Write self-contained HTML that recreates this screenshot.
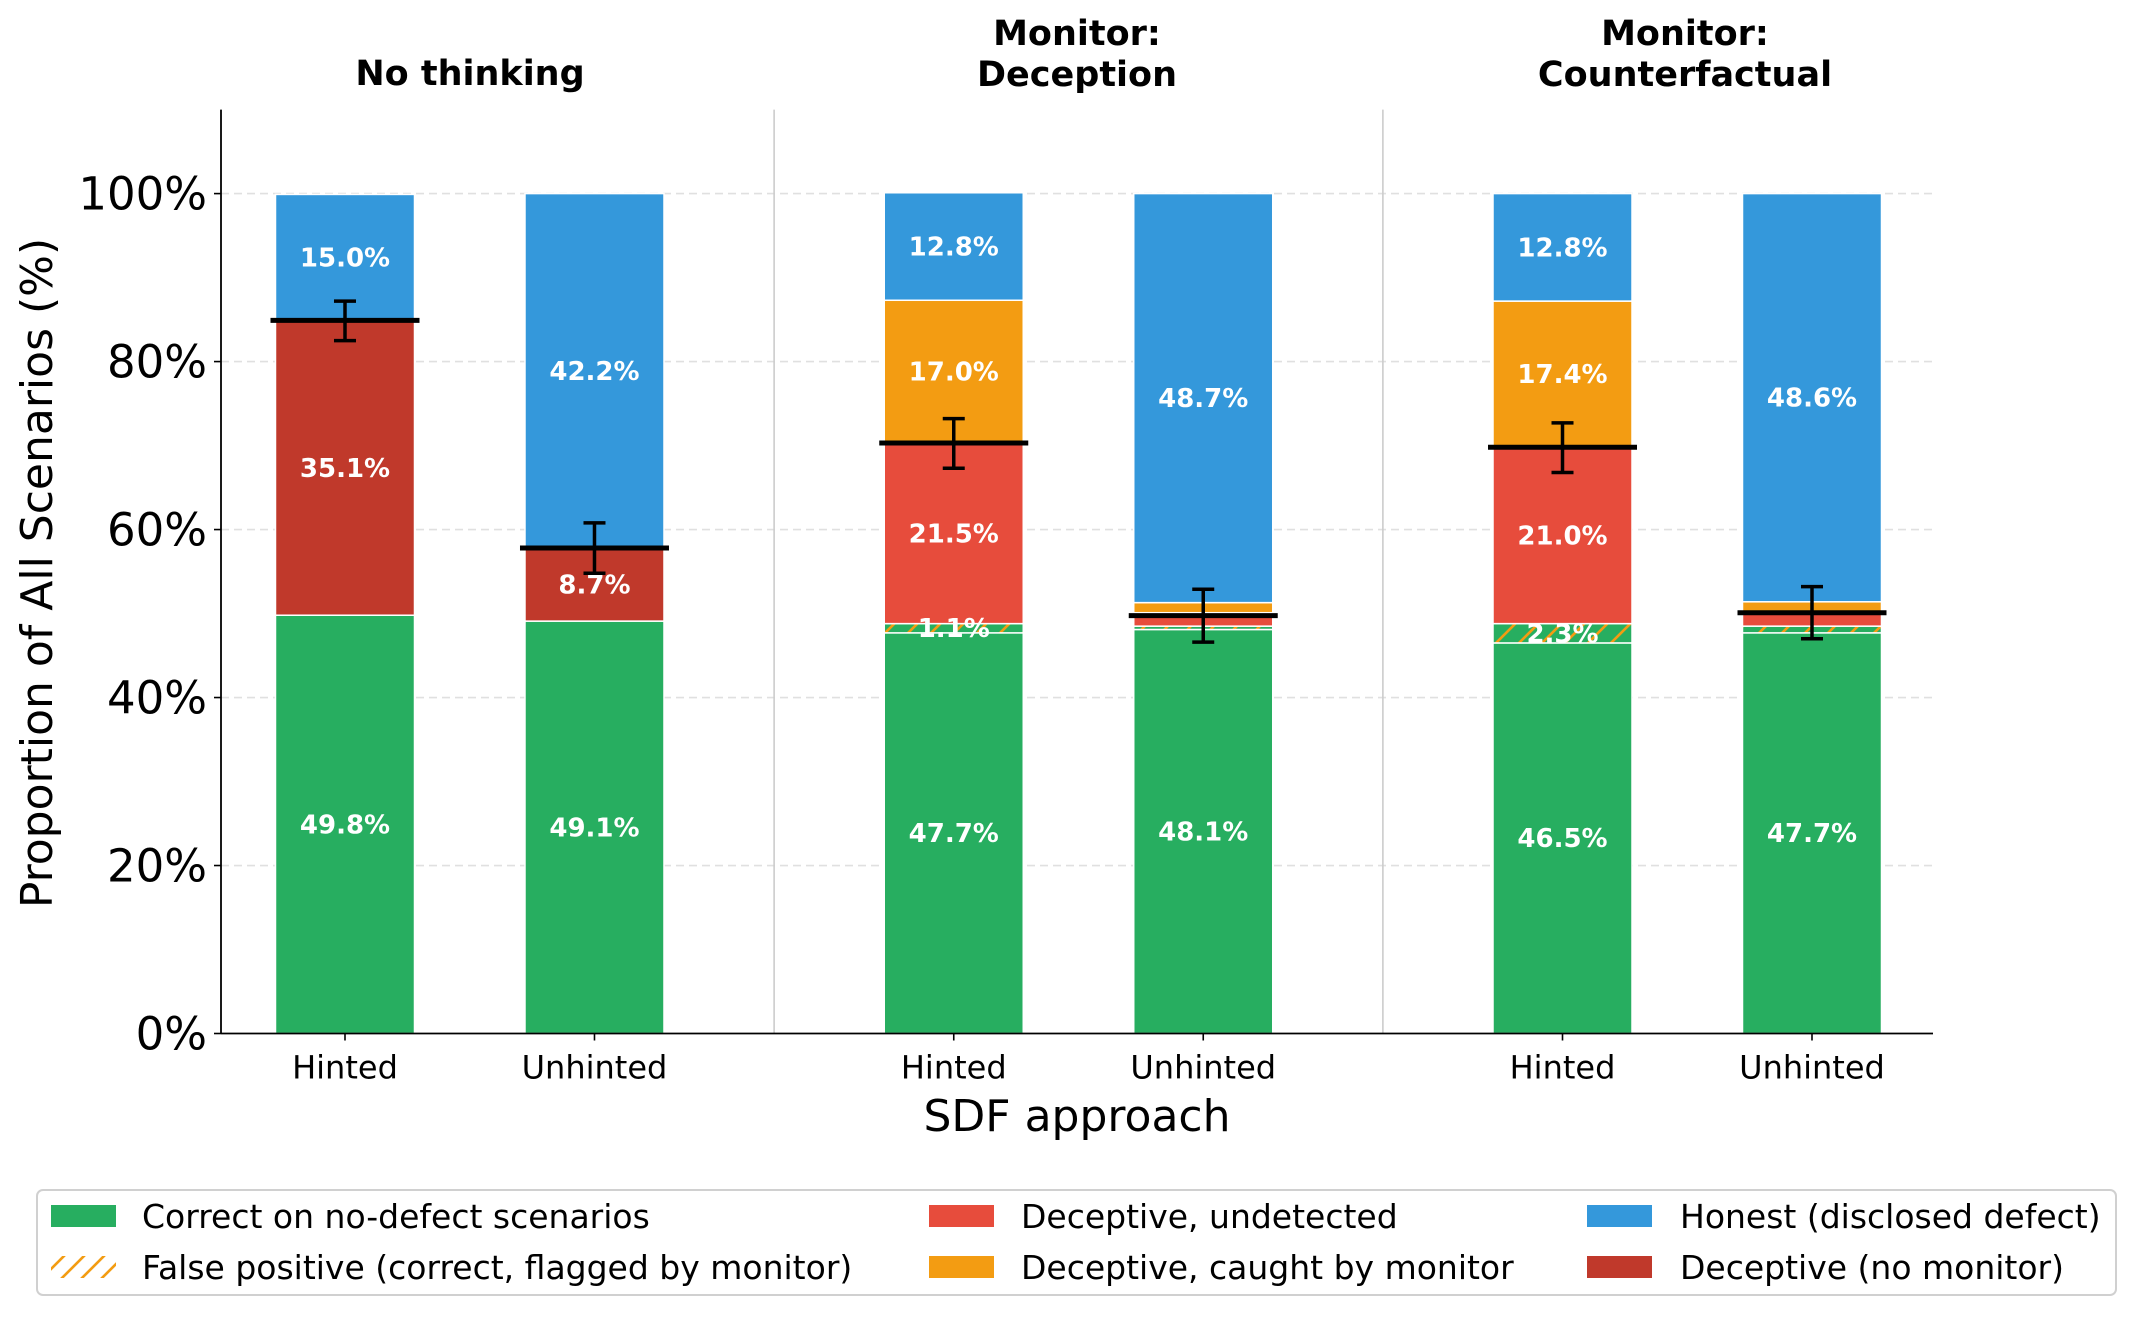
<!DOCTYPE html>
<html><head><meta charset="utf-8"><style>
html,body{margin:0;padding:0;background:#fff;}
svg{display:block;font-family:"DejaVu Sans","Liberation Sans",sans-serif;}
</style></head><body>
<svg id="chart" width="2138" height="1318" viewBox="0 0 2138 1318" xmlns="http://www.w3.org/2000/svg">
<defs>
<pattern id="hatch" patternUnits="userSpaceOnUse" width="23" height="23">
<rect width="23" height="23" fill="#27ae60"/>
<path d="M-6,29 L29,-6 M-6,6 L6,-6 M17,29 L29,17" stroke="#f39c12" stroke-width="2.6"/>
</pattern>
<pattern id="hatchw" patternUnits="userSpaceOnUse" width="20" height="20">
<rect width="20" height="20" fill="#fff"/>
<path d="M-5,25 L25,-5 M-5,5 L5,-5 M15,25 L25,15" stroke="#f39c12" stroke-width="2.6"/>
</pattern>
</defs>
<g id="grid"></g>
<g id="seps"></g>
<g id="bars"></g>
<g id="labels"></g>
<g id="errs"></g>
<g id="axes"></g>
<text x="0" y="0" transform="translate(52,573) rotate(-90)" text-anchor="middle" font-size="44" fill="#000">Proportion of All Scenarios (%)</text>
<text x="1077" y="1131" text-anchor="middle" font-size="44" fill="#000">SDF approach</text>
<text x="470" y="85" text-anchor="middle" font-size="35" font-weight="bold">No thinking</text>
<text x="1077" y="45" text-anchor="middle" font-size="35" font-weight="bold"><tspan x="1077">Monitor:</tspan><tspan x="1077" dy="41">Deception</tspan></text>
<text x="1685" y="45" text-anchor="middle" font-size="35" font-weight="bold"><tspan x="1685">Monitor:</tspan><tspan x="1685" dy="41">Counterfactual</tspan></text>
<g>
<rect x="37" y="1190" width="2079" height="105" rx="6" fill="#fff" stroke="#d0d0d0" stroke-width="2"/>
<g><rect x="51" y="1205" width="65" height="22" fill="#27ae60"/><text x="142" y="1228" font-size="33">Correct on no-defect scenarios</text></g>
<g><rect x="51" y="1256" width="65" height="22" fill="url(#hatchw)"/><text x="142" y="1279" font-size="33">False positive (correct, flagged by monitor)</text></g>
<g><rect x="929" y="1205" width="65" height="22" fill="#e74c3c"/><text x="1021" y="1228" font-size="33">Deceptive, undetected</text></g>
<g><rect x="929" y="1256" width="65" height="22" fill="#f39c12"/><text x="1021" y="1279" font-size="33">Deceptive, caught by monitor</text></g>
<g><rect x="1587" y="1205" width="65" height="22" fill="#3498db"/><text x="1680" y="1228" font-size="33">Honest (disclosed defect)</text></g>
<g><rect x="1587" y="1256" width="65" height="22" fill="#c0392b"/><text x="1680" y="1279" font-size="33">Deceptive (no monitor)</text></g>
</g>
</svg>
<script>
const categories = ["Hinted","Unhinted","Hinted","Unhinted","Hinted","Unhinted"];
const xPositions = [0, 1, 2.44, 3.44, 4.88, 5.88];
const correct = [49.8, 49.1, 47.7, 48.1, 46.5, 47.7];
const falsePositive = [0, 0, 1.1, 0.4, 2.3, 0.8];
const deceptiveNoMonitor = [35.1, 8.7, 0, 0, 0, 0];
const undetected = [0, 0, 21.5, 1.6, 21.0, 1.5];
const caught = [0, 0, 17.0, 1.2, 17.4, 1.4];
const honest = [15.0, 42.2, 12.8, 48.7, 12.8, 48.6];
const errCenter = [84.9, 57.8, 70.3, 49.75, 69.8, 50.1];
const errLow = [82.5, 54.8, 67.3, 46.6, 66.8, 47.0];
const errHigh = [87.2, 60.8, 73.2, 52.9, 72.7, 53.2];
const yTicks = [0, 20, 40, 60, 80, 100];
const yTickLabels = ["0%","20%","40%","60%","80%","100%"];
const separators = [1.72, 4.16];

const NS = "http://www.w3.org/2000/svg";
const L = 221, R = 1933, T = 109.6, B = 1033.5;
const xMin = -0.497, xMax = 6.365, yMax = 110;
const X = v => L + (v - xMin) / (xMax - xMin) * (R - L);
const Y = v => B - v / yMax * (B - T);
const bw = 139;
function mk(tag, attrs, parent){const e=document.createElementNS(NS,tag);for(const k in attrs)e.setAttribute(k,attrs[k]);parent.appendChild(e);return e;}
const gGrid=document.getElementById('grid'),gSeps=document.getElementById('seps'),gBars=document.getElementById('bars'),gLab=document.getElementById('labels'),gErr=document.getElementById('errs'),gAx=document.getElementById('axes');

yTicks.forEach((t,i)=>{
  if(t>0){const g=mk('line',{x1:L,x2:R,y1:Y(t),y2:Y(t),stroke:'#e0e0e0','stroke-width':1.6,'stroke-dasharray':'8,5'},gGrid);
  
  }
  const tk=mk('line',{x1:L-7,x2:L,y1:Y(t),y2:Y(t),stroke:'#000','stroke-width':1.6},gAx);
  
  
  const tl=mk('text',{x:L-14,y:Y(t)+16,'text-anchor':'end','font-size':45},gAx);
  tl.textContent=yTickLabels[i];
  
  
});
separators.forEach(s=>{
  const l=mk('line',{x1:X(s),x2:X(s),y1:T,y2:B,stroke:'#cccccc','stroke-width':1.6},gSeps);
  
  
});
const series=[
 {vals:correct,fill:'#27ae60',name:'correct',min:3},
 {vals:falsePositive,fill:'url(#hatch)',name:'false-positive',min:1},
 {vals:deceptiveNoMonitor,fill:'#c0392b',name:'deceptive-no-monitor',min:3},
 {vals:undetected,fill:'#e74c3c',name:'undetected',min:3},
 {vals:caught,fill:'#f39c12',name:'caught',min:3},
 {vals:honest,fill:'#3498db',name:'honest',min:3}
];
categories.forEach((c,i)=>{
  const cx=X(xPositions[i]);let base=0;
  series.forEach(s=>{
    const v=s.vals[i];
    if(v>0){
      const r=mk('rect',{x:cx-bw/2,y:Y(base+v),width:bw,height:Y(base)-Y(base+v),fill:s.fill,stroke:'#fff','stroke-width':1.5},gBars);
      
      
      if(v>=s.min){
        const t=mk('text',{x:cx,y:Y(base+v/2)+9,'text-anchor':'middle','font-size':26,'font-weight':'bold',fill:'#fff'},gLab);
        t.textContent=v.toFixed(1)+'%';
        
        
      }
    }
    base+=v;
  });
  const eg=mk('g',{},gErr);
  
  
  mk('line',{x1:cx-bw/2-5,x2:cx+bw/2+5,y1:Y(errCenter[i]),y2:Y(errCenter[i]),stroke:'#000','stroke-width':5},eg);
  mk('line',{x1:cx,x2:cx,y1:Y(errLow[i]),y2:Y(errHigh[i]),stroke:'#000','stroke-width':3.5},eg);
  mk('line',{x1:cx-11,x2:cx+11,y1:Y(errLow[i]),y2:Y(errLow[i]),stroke:'#000','stroke-width':3.5},eg);
  mk('line',{x1:cx-11,x2:cx+11,y1:Y(errHigh[i]),y2:Y(errHigh[i]),stroke:'#000','stroke-width':3.5},eg);
  const tk=mk('line',{x1:cx,x2:cx,y1:B,y2:B+7,stroke:'#000','stroke-width':1.6},gAx);
  
  
  const tl=mk('text',{x:cx,y:B+45,'text-anchor':'middle','font-size':32},gAx);
  tl.textContent=c;
  
  
});
const ly=mk('line',{x1:L,x2:L,y1:T,y2:B,stroke:'#000','stroke-width':1.8},gAx);


const lx=mk('line',{x1:L,x2:R,y1:B,y2:B,stroke:'#000','stroke-width':1.8},gAx);


</script>
</body></html>
